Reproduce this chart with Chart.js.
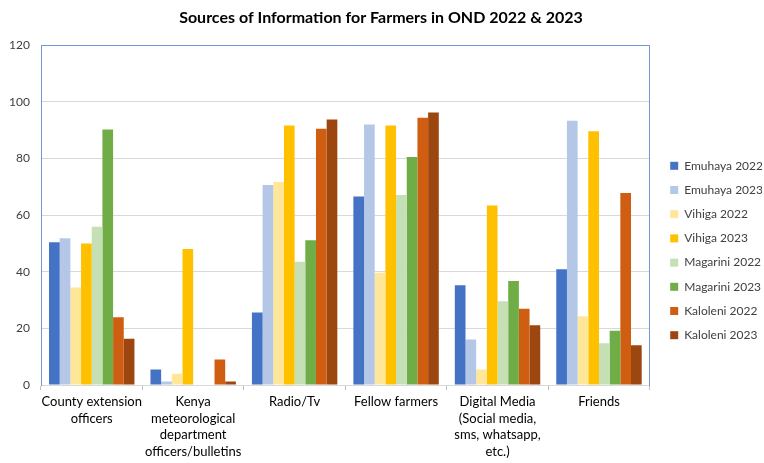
<!DOCTYPE html>
<html>
<head>
<meta charset="utf-8">
<script src="https://cdn.jsdelivr.net/npm/chart.js@4.4.1/dist/chart.umd.min.js"></script>
<style>
  html, body { margin: 0; padding: 0; background: #fff; }
  #wrap { width: 764px; height: 463px; }
</style>
</head>
<body>
<div id="wrap"><canvas id="sourcesChart" width="764" height="463"></canvas></div>
<script>
// categories (multi-line labels as in the original)
const categories = [
    ["County extension", "officers"],
    ["Kenya", "meteorological", "department", "officers/bulletins"],
    ["Radio/Tv"],
    ["Fellow farmers"],
    ["Digital Media", "(Social media,", "sms, whatsapp,", "etc.)"],
    ["Friends"]
];

// percentages
const emuhaya2022  = [50.4, 5.5, 25.6, 66.6, 35.2, 40.9];
const emuhaya2023  = [51.8, 1.2, 70.6, 92.0, 16.1, 93.3];
const vihiga2022   = [34.4, 4.0, 71.7, 39.6, 5.5, 24.3];
const vihiga2023   = [50.0, 48.0, 91.6, 91.6, 63.4, 89.6];
const magarini2022 = [55.9, 0, 43.5, 67.1, 29.6, 14.7];
const magarini2023 = [90.2, 0, 51.1, 80.5, 36.7, 19.2];
const kaloleni2022 = [23.9, 9.0, 90.5, 94.4, 26.9, 67.8];
const kaloleni2023 = [16.3, 1.2, 93.8, 96.2, 21.1, 14.0];

const yTicks = [0, 20, 40, 60, 80, 100, 120];

const frameBlue = "#7096D6";
const fontFamily = "Lato, 'Liberation Sans', sans-serif";

function series(label, data, color) {
    return {
        label: label,
        data: data,
        backgroundColor: color,
        borderWidth: 0,
        categoryPercentage: 0.842,
        barPercentage: 1.0,
    };
}

const datasets = [
    series("Emuhaya 2022", emuhaya2022, "#4472C4"),
    series("Emuhaya 2023", emuhaya2023, "#B4C7E7"),
    series("Vihiga 2022", vihiga2022, "#FFE699"),
    series("Vihiga 2023", vihiga2023, "#FFC000"),
    series("Magarini 2022", magarini2022, "#C5E0B4"),
    series("Magarini 2023", magarini2023, "#70AD47"),
    series("Kaloleni 2022", kaloleni2022, "#D05E12"),
    series("Kaloleni 2023", kaloleni2023, "#9C4610"),
];

Chart.defaults.font.family = fontFamily;
Chart.defaults.color = "#404040";

new Chart(document.getElementById("sourcesChart").getContext("2d"), {
    type: "bar",
    data: {
        labels: categories,
        datasets: datasets,
    },
    options: {
        responsive: false,
        animation: false,
        layout: {
            padding: { left: 0, right: 2, top: 0, bottom: 0 },
        },
        plugins: {
            title: {
                display: true,
                text: "Sources of Information for Farmers in OND 2022 & 2023",
                color: "#000",
                font: { size: 16, weight: "bold" },
                padding: { top: 8, bottom: 18 },
            },
            legend: {
                display: true,
                position: "right",
                maxWidth: 104,
                // blank title only used to push the items down like the original
                title: {
                    display: true,
                    text: " ",
                    font: { size: 10 },
                    padding: { top: 13, bottom: 13 },
                },
                labels: {
                    boxWidth: 8,
                    boxHeight: 8,
                    padding: 12.2,
                    color: "#404040",
                    font: { size: 12 },
                },
            },
            tooltip: { enabled: false },
        },
        scales: {
            x: {
                grid: {
                    display: true,
                    offset: true,
                    drawOnChartArea: false,
                    tickLength: 5,
                    color: "#BFBFBF",
                },
                border: { color: "#D9D9D9" },
                ticks: {
                    color: "#000",
                    padding: 3,
                    maxRotation: 0,
                    autoSkip: false,
                    font: { size: 13, lineHeight: 1.3 },
                },
                afterFit: function (scale) {
                    scale.height = 78;
                },
            },
            y: {
                min: 0,
                max: 120,
                afterBuildTicks: function (scale) {
                    scale.ticks = yTicks.map(v => ({ value: v }));
                },
                grid: {
                    drawTicks: false,
                    color: (c) => (c.tick && c.tick.value === 120 ? frameBlue : "#D9D9D9"),
                },
                border: { color: frameBlue },
                ticks: {
                    padding: 11,
                    color: "#404040",
                    font: { size: 12 },
                },
                afterFit: function (scale) {
                    scale.width = 41;
                },
            },
            yRight: {
                position: "right",
                display: true,
                grid: { display: false, drawTicks: false },
                ticks: { display: false },
                border: { color: frameBlue },
                afterFit: function (scale) {
                    scale.width = 8.3;
                },
            },
        },
    },
});
</script>
</body>
</html>
